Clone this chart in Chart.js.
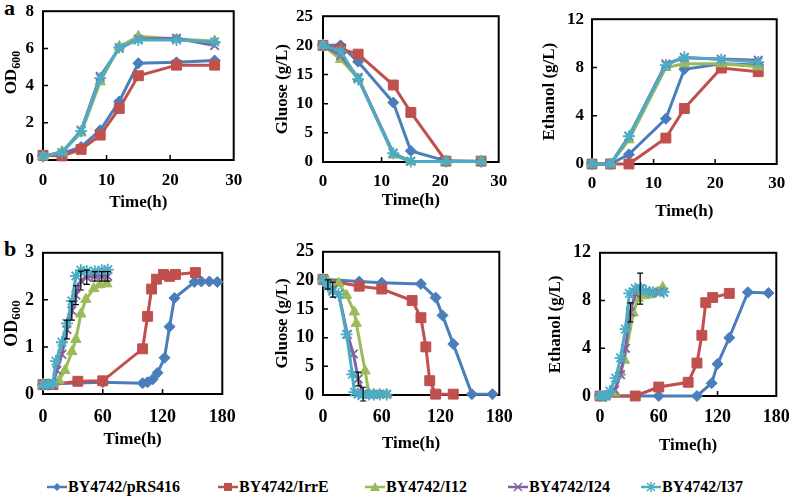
<!DOCTYPE html>
<html>
<head>
<meta charset="utf-8">
<script src="https://cdn.jsdelivr.net/npm/chart.js@4.4.1/dist/chart.umd.min.js"></script>
<style>
    body { margin: 0; width: 796px; height: 497px; background: #fff; position: relative; overflow: hidden; font-family: 'Liberation Serif', serif; }
    canvas { position: absolute; }
    .tag { position: absolute; font-weight: bold; font-size: 22px; line-height: 22px; }
    .item { position: absolute; top: 478px; font-weight: bold; font-size: 16px; line-height: 18px; white-space: nowrap; }
    .item svg { vertical-align: -3px; margin-right: 1px; }
</style>
</head>
<body>
<div class="tag" style="left:4px;top:-3px">a</div>
<div class="tag" style="left:4px;top:238px">b</div>
<canvas id="aOD"></canvas>
<canvas id="aGlc"></canvas>
<canvas id="aEth"></canvas>
<canvas id="bOD"></canvas>
<canvas id="bGlc"></canvas>
<canvas id="bEth"></canvas>
<div id="legend"></div>
<script>
// Strains
const seriesNames = ['BY4742/pRS416', 'BY4742/IrrE', 'BY4742/I12', 'BY4742/I24', 'BY4742/I37'];
const colors = ['#4A7EBB', '#C0504D', '#9BBB59', '#8064A2', '#4BACC6'];

// Panel a - OD600
const aOdTime = [0, 3, 6, 9, 12, 15, 21, 27];
const aOdPRS = [0.2, 0.35, 0.7, 1.6, 3.15, 5.2, 5.25, 5.35];
const aOdIrrE = [0.25, 0.22, 0.57, 1.34, 2.77, 4.53, 5.1, 5.1];
const aOdI12 = [0.2, 0.45, 1.45, 4.2, 6.1, 6.65, 6.5, 6.4];
const aOdI24 = [0.2, 0.4, 1.6, 4.5, 6.0, 6.5, 6.55, 6.15];
const aOdI37 = [0.2, 0.4, 1.55, 4.4, 6.05, 6.45, 6.45, 6.35];

// Panel a - glucose and ethanol
const aTime = [0, 3, 6, 12, 15, 21, 27];
const aGlcPRS = [20, 20, 17.2, 10.2, 1.9, 0.2, 0.1];
const aGlcIrrE = [20, 19.4, 18.5, 13.2, 8.5, 0.15, 0.15];
const aGlcI12 = [20, 17.6, 14.3, 1.2, 0.1, 0.1, 0.1];
const aGlcI24 = [20, 18.3, 14.5, 1.5, 0.1, 0.1, 0.1];
const aGlcI37 = [20, 19, 14.2, 1.5, 0.1, 0.1, 0.1];

const aEthPRS = [0, 0, 0.8, 3.75, 7.85, 8.3, 8.2];
const aEthIrrE = [0, 0, 0, 2.15, 4.6, 7.95, 7.65];
const aEthI12 = [0, 0, 2.0, 8.0, 8.3, 8.3, 8.05];
const aEthI24 = [0, 0, 2.3, 8.3, 8.8, 8.7, 8.6];
const aEthI37 = [0, 0, 2.3, 8.2, 8.85, 8.65, 8.45];

// Panel b - OD600
const bOdTimePRS = [0, 5, 10, 60, 100, 105, 110, 115, 122, 127, 132, 152, 159, 167, 175];
const bOdPRS = [0.2, 0.2, 0.22, 0.25, 0.23, 0.25, 0.31, 0.45, 0.77, 1.43, 2.04, 2.38, 2.39, 2.39, 2.38];
const bOdTimeIrrE = [0, 5, 10, 35, 60, 100, 105, 109, 114, 121, 127, 133, 153];
const bOdIrrE = [0.2, 0.2, 0.2, 0.27, 0.28, 0.96, 1.65, 2.23, 2.44, 2.54, 2.5, 2.54, 2.58];
const bOdTimeI12 = [0, 5, 10, 16, 22, 29, 33, 38, 43, 51, 57, 64];
const bOdI12 = [0.2, 0.2, 0.22, 0.28, 0.5, 0.9, 1.16, 1.7, 2.01, 2.24, 2.32, 2.34];
const bOdTimeI24 = [0, 5, 10, 14, 19, 24, 29, 33, 38, 44, 52, 59, 65];
const bOdI24 = [0.2, 0.2, 0.22, 0.5, 0.84, 1.37, 1.77, 2.1, 2.41, 2.48, 2.5, 2.5, 2.5];
const bOdErrI24 = [0, 0, 0, 0, 0, 0.2, 0.2, 0.2, 0.2, 0.15, 0.1, 0.1, 0.1];
const bOdTimeI37 = [0, 5, 10, 13, 19, 24, 29, 33, 38, 44, 52, 59, 65];
const bOdI37 = [0.2, 0.2, 0.22, 0.7, 1.1, 1.5, 1.98, 2.51, 2.63, 2.61, 2.61, 2.63, 2.64];

// Panel b - glucose
const bGlcTimePRS = [0, 37, 60, 100, 115, 122, 133, 152, 173];
const bGlcPRS = [20.2, 19.8, 19.6, 19.4, 17.0, 13.9, 8.9, 0.15, 0.15];
const bGlcTimeIrrE = [0, 37, 60, 91, 100, 105, 109, 115, 133];
const bGlcIrrE = [20.2, 19.0, 18.5, 16.5, 13.5, 8.4, 2.5, 0.15, 0.15];
const bGlcTimeI12 = [0, 5, 16, 24, 32, 34, 43, 47, 52, 58, 65];
const bGlcI12 = [20.2, 19.9, 19.5, 17.4, 14.5, 12.5, 4.2, 0.15, 0.1, 0.1, 0.1];
const bGlcTimeI24 = [0, 5, 10, 16, 25, 31, 36, 41, 47, 52, 58, 65];
const bGlcI24 = [20, 19.3, 18.4, 17.6, 10.6, 7.2, 2.8, 0.15, 0.1, 0.1, 0.1, 0.1];
const bGlcErrI24 = [0, 0.8, 1.3, 0, 0, 0, 1.2, 1.2, 0, 0, 0, 0];
const bGlcTimeI37 = [0, 5, 10, 16, 24, 30, 32, 36, 41, 47, 52, 58, 65];
const bGlcI37 = [20.2, 19, 18.1, 17.6, 10.6, 3.6, 0.5, 0.15, 0.1, 0.1, 0.1, 0.1, 0.1];

// Panel b - ethanol
const bEthTimePRS = [0, 6, 60, 99, 114, 120, 132, 151, 172];
const bEthPRS = [0, 0, 0, 0, 1.07, 2.68, 4.88, 8.7, 8.63];
const bEthTimeIrrE = [0, 36, 60, 90, 99, 104, 108, 115, 132];
const bEthIrrE = [0, 0, 0.75, 1.15, 2.76, 5.09, 7.82, 8.25, 8.6];
const bEthTimeI12 = [0, 6, 15, 21, 25, 34, 39, 46, 52, 59, 64];
const bEthI12 = [0, 0, 0.27, 2.0, 3.0, 6.96, 8.17, 8.4, 8.5, 8.7, 9.1];
const bEthTimeI24 = [0, 6, 15, 21, 26, 31, 36, 41, 47, 54, 60, 65];
const bEthI24 = [0, 0, 0.5, 1.8, 4.0, 7.0, 8.6, 9.0, 8.8, 8.7, 8.7, 8.7];
const bEthErrI24 = [0, 0, 0, 0, 0, 0.8, 0, 1.3, 0, 0, 0, 0];
const bEthTimeI37 = [0, 6, 10, 16, 21, 26, 30, 36, 42, 47, 54, 65];
const bEthI37 = [0, 0, 0.4, 1.5, 3.2, 5.6, 8.6, 9.0, 9.0, 8.8, 8.7, 8.7];

const pointStyles = ['rectRot', 'rect', 'triangle', 'crossRot', 'star'];
const pointRadii = [5.5, 7, 6, 6, 6];
const FONT = 'Liberation Serif';

// Build one line dataset
function lineSet(i, times, values, errors) {
    return {
        label: seriesNames[i],
        data: times.map((t, k) => ({ x: t, y: values[k] })),
        err: errors || null,
        borderColor: colors[i],
        backgroundColor: colors[i],
        borderWidth: 3,
        pointStyle: pointStyles[i],
        pointRadius: pointRadii[i],
        pointBorderWidth: i >= 3 ? 1.8 : 1,
        order: 4 - i,
        clip: false,
        tension: 0
    };
}

// Box around the plot, inward tick marks, error bars, OD600 title
const framePlugin = {
    id: 'frame',
    beforeDatasetsDraw(chart) {
        const { ctx, chartArea: a, scales: { x, y } } = chart;
        ctx.save();
        ctx.strokeStyle = '#000';
        ctx.lineWidth = 2;
        ctx.strokeRect(a.left, a.top, a.right - a.left, a.bottom - a.top);
        ctx.lineWidth = 1.5;
        ctx.beginPath();
        x.ticks.forEach(t => {
            const px = x.getPixelForValue(t.value);
            if (px > a.left + 2 && px < a.right - 2) { ctx.moveTo(px, a.bottom); ctx.lineTo(px, a.bottom - 5); }
        });
        y.ticks.forEach(t => {
            const py = y.getPixelForValue(t.value);
            if (py > a.top + 2 && py < a.bottom - 2) { ctx.moveTo(a.left, py); ctx.lineTo(a.left + 5, py); }
        });
        ctx.stroke();
        ctx.restore();
    },
    afterDatasetsDraw(chart) {
        const { ctx, scales: { x, y } } = chart;
        ctx.save();
        ctx.strokeStyle = '#000';
        ctx.lineWidth = 1.2;
        ctx.beginPath();
        chart.data.datasets.forEach(ds => {
            if (!ds.err) return;
            ds.data.forEach((pt, k) => {
                const e = ds.err[k];
                if (!e) return;
                const px = x.getPixelForValue(pt.x);
                const top = y.getPixelForValue(pt.y + e);
                const bot = y.getPixelForValue(pt.y - e);
                ctx.moveTo(px, top); ctx.lineTo(px, bot);
                ctx.moveTo(px - 3, top); ctx.lineTo(px + 3, top);
                ctx.moveTo(px - 3, bot); ctx.lineTo(px + 3, bot);
            });
        });
        ctx.stroke();
        ctx.restore();
    },
    afterDraw(chart) {
        const o = chart.options.plugins.odTitle;
        if (!o) return;
        const { ctx, chartArea: a } = chart;
        const small = Math.round(o.size * 0.7);
        ctx.save();
        ctx.fillStyle = '#000';
        ctx.font = 'bold ' + o.size + 'px ' + FONT;
        const w1 = ctx.measureText('OD').width;
        ctx.font = 'bold ' + small + 'px ' + FONT;
        const w2 = ctx.measureText('600').width;
        ctx.translate(o.x, (a.top + a.bottom) / 2 + o.shift);
        ctx.rotate(-Math.PI / 2);
        ctx.textAlign = 'left';
        ctx.textBaseline = 'middle';
        ctx.font = 'bold ' + o.size + 'px ' + FONT;
        ctx.fillText('OD', -(w1 + w2) / 2, 0);
        ctx.font = 'bold ' + small + 'px ' + FONT;
        ctx.fillText('600', -(w1 + w2) / 2 + w1, 5);
        ctx.restore();
    }
};

// Create one panel; p gives the plot box and label positions in page pixels
function makePanel(id, p, datasets) {
    const titleSize = 17, titleLH = titleSize * 1.2, tickLH = p.tick * 1.2;
    const cx = Math.round(p.titleX - titleLH / 2);
    const cy = p.T - 14;
    const bottom = Math.round(p.xTitleY + titleLH / 2);
    const canvas = document.getElementById(id);
    canvas.width = p.R + 16 - cx;
    canvas.height = bottom - cy;
    canvas.style.left = cx + 'px';
    canvas.style.top = cy + 'px';
    canvas.style.width = canvas.width + 'px';
    canvas.style.height = canvas.height + 'px';

    const tickFont = { family: FONT, weight: 'bold', size: p.tick };
    const titleFont = { family: FONT, weight: 'bold', size: titleSize };
    new Chart(canvas, {
        type: 'line',
        data: { datasets },
        options: {
            responsive: false,
            animation: false,
            events: [],
            layout: { padding: { left: 0, top: 14, right: 16, bottom: 0 } },
            plugins: {
                legend: { display: false },
                tooltip: { enabled: false },
                odTitle: p.od ? { x: p.titleX - cx, size: p.odSize, shift: p.odShift } : null
            },
            scales: {
                x: {
                    type: 'linear', min: p.xMin, max: p.xMax,
                    ticks: { stepSize: p.xStep, font: tickFont, color: '#000', padding: p.xLabY - p.B - tickLH / 2, autoSkip: false, maxRotation: 0 },
                    grid: { display: false, drawTicks: false },
                    border: { display: false },
                    title: { display: true, text: 'Time(h)', font: titleFont, color: '#000', padding: 0 },
                    afterFit: s => { s.height = bottom - p.B; }
                },
                y: {
                    type: 'linear', min: p.yMin, max: p.yMax,
                    ticks: { stepSize: p.yStep, font: tickFont, color: '#000', padding: p.L - p.yLabR },
                    grid: { display: false, drawTicks: false },
                    border: { display: false },
                    title: { display: !p.od, text: p.yTitle || '', font: titleFont, color: '#000', padding: 0 },
                    afterFit: s => { s.width = p.L - cx; }
                }
            }
        },
        plugins: [framePlugin]
    });
}

makePanel('aOD', { L: 43, R: 237, T: 6, B: 160, titleX: 12, yLabR: 34, xLabY: 181, xTitleY: 203, tick: 17,
    xMin: 0, xMax: 30, xStep: 10, yMin: 0, yMax: 8, yStep: 2, od: true, odSize: 17, odShift: -13 }, [
    lineSet(0, aOdTime, aOdPRS), lineSet(1, aOdTime, aOdIrrE), lineSet(2, aOdTime, aOdI12),
    lineSet(3, aOdTime, aOdI24), lineSet(4, aOdTime, aOdI37)
]);

makePanel('aGlc', { L: 323, R: 501, T: 10, B: 162, titleX: 282, yLabR: 313, xLabY: 182, xTitleY: 201, tick: 17,
    xMin: 0, xMax: 30, xStep: 10, yMin: 0, yMax: 25, yStep: 5, yTitle: 'Gluose (g/L)' }, [
    lineSet(0, aTime, aGlcPRS), lineSet(1, aTime, aGlcIrrE), lineSet(2, aTime, aGlcI12),
    lineSet(3, aTime, aGlcI24), lineSet(4, aTime, aGlcI37)
]);

makePanel('aEth', { L: 592, R: 779, T: 15, B: 164, titleX: 549, yLabR: 584, xLabY: 184, xTitleY: 212, tick: 17,
    xMin: 0, xMax: 30, xStep: 10, yMin: 0, yMax: 12, yStep: 4, yTitle: 'Ethanol (g/L)' }, [
    lineSet(0, aTime, aEthPRS), lineSet(1, aTime, aEthIrrE), lineSet(2, aTime, aEthI12),
    lineSet(3, aTime, aEthI24), lineSet(4, aTime, aEthI37)
]);

makePanel('bOD', { L: 43, R: 232, T: 247, B: 394, titleX: 12, yLabR: 34, xLabY: 417, xTitleY: 440, tick: 18,
    xMin: 0, xMax: 180, xStep: 60, yMin: 0, yMax: 3, yStep: 1, od: true, odSize: 18, odShift: 0 }, [
    lineSet(0, bOdTimePRS, bOdPRS), lineSet(1, bOdTimeIrrE, bOdIrrE), lineSet(2, bOdTimeI12, bOdI12),
    lineSet(3, bOdTimeI24, bOdI24, bOdErrI24), lineSet(4, bOdTimeI37, bOdI37)
]);

makePanel('bGlc', { L: 323, R: 508, T: 246, B: 395, titleX: 282, yLabR: 314, xLabY: 417, xTitleY: 444, tick: 18,
    xMin: 0, xMax: 180, xStep: 60, yMin: 0, yMax: 25, yStep: 5, yTitle: 'Gluose (g/L)' }, [
    lineSet(0, bGlcTimePRS, bGlcPRS), lineSet(1, bGlcTimeIrrE, bGlcIrrE), lineSet(2, bGlcTimeI12, bGlcI12),
    lineSet(3, bGlcTimeI24, bGlcI24, bGlcErrI24), lineSet(4, bGlcTimeI37, bGlcI37)
]);

makePanel('bEth', { L: 600, R: 784, T: 247, B: 396, titleX: 555, yLabR: 591, xLabY: 417, xTitleY: 446, tick: 18,
    xMin: 0, xMax: 180, xStep: 60, yMin: 0, yMax: 12, yStep: 4, yTitle: 'Ethanol (g/L)' }, [
    lineSet(0, bEthTimePRS, bEthPRS), lineSet(1, bEthTimeIrrE, bEthIrrE), lineSet(2, bEthTimeI12, bEthI12),
    lineSet(3, bEthTimeI24, bEthI24, bEthErrI24), lineSet(4, bEthTimeI37, bEthI37)
]);

// Legend along the bottom
const legendLeft = [47, 218, 365, 508, 641];
const markerSvg = [
    c => `<polygon points="10,4 14,8 10,12 6,8" fill="${c}"/>`,
    c => `<rect x="6" y="4" width="8" height="8" fill="${c}"/>`,
    c => `<polygon points="10,3 15,12 5,12" fill="${c}"/>`,
    c => `<path d="M6,4 L14,12 M14,4 L6,12" stroke="${c}" stroke-width="1.5"/>`,
    c => `<path d="M6,4 L14,12 M14,4 L6,12 M10,3 L10,13" stroke="${c}" stroke-width="1.5"/>`
];
const legend = document.getElementById('legend');
seriesNames.forEach((name, i) => {
    const item = document.createElement('div');
    item.className = 'item';
    item.style.left = legendLeft[i] + 'px';
    item.innerHTML = `<svg width="20" height="16"><line x1="0" y1="8" x2="20" y2="8" stroke="${colors[i]}" stroke-width="2.5"/>${markerSvg[i](colors[i])}</svg>${name}`;
    legend.appendChild(item);
});
</script>
</body>
</html>
